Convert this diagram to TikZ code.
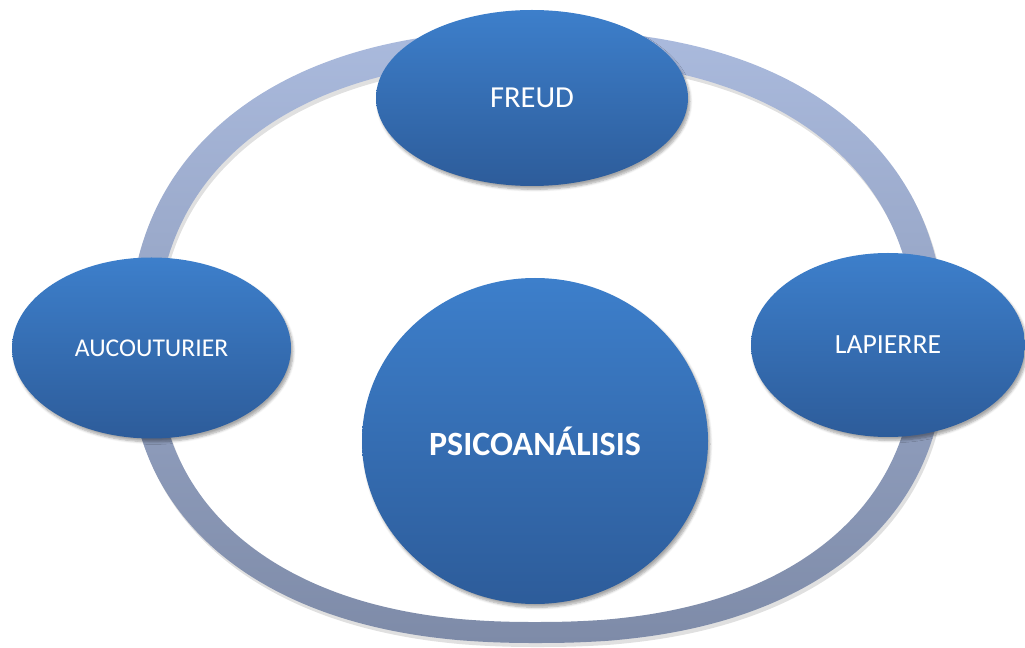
\documentclass[tikz,border=0pt]{standalone}
\usepackage{fontspec}
\setmainfont{Carlito}
\usetikzlibrary{shapes.geometric,shadows.blur}
\definecolor{ringtop}{RGB}{170,186,221}
\definecolor{ringbot}{RGB}{126,139,168}
\definecolor{nodetop}{RGB}{61,127,203}
\definecolor{nodebot}{RGB}{45,92,154}
\tikzset{
  bluenode/.style={ellipse, inner sep=0pt, top color=nodetop, bottom color=nodebot,
    text=white, blur shadow={shadow xshift=1.5pt, shadow yshift=-2.5pt, shadow blur steps=6, shadow opacity=35}},
  declare function={
    sx(\t)=sign(cos(\t))*pow(abs(cos(\t)),0.87);
    sy(\t)=sign(sin(\t))*pow(abs(sin(\t)),0.87);
  },
}
\newcommand{\ringpath}{%
  plot[domain=0.5:358.5, samples=180, smooth] ({537+408*sx(\x)}, {345+(sin(\x)>0?298:315)*sy(\x)}) -- cycle
  plot[domain=0.5:358.5, samples=180, smooth] ({536+379*sx(\x)}, {345+(sin(\x)>0?277:285)*sy(\x)}) -- cycle}
\begin{document}
\begin{tikzpicture}[x=0.75pt,y=-0.75pt]
\useasboundingbox (0,0) rectangle (1025,648);
% ring shadow
\fill[black, opacity=0.12, even odd rule, shift={(2,4)}] \ringpath;
% ring
\shade[top color=ringtop, bottom color=ringbot, even odd rule] \ringpath;
% nodes
\node[bluenode, minimum width=234pt, minimum height=132pt, font=\fontsize{22.9}{27}\selectfont] (freud) at (532,98) {FREUD};
\node[bluenode, minimum width=209.25pt, minimum height=135.75pt, font=\fontsize{19.2}{23}\selectfont] (auco) at (151.5,348) {AUCOUTURIER};
\node[bluenode, minimum width=205.5pt, minimum height=138pt, font=\fontsize{20.8}{25}\selectfont] (lapi) at (888,345) {LAPIERRE};
\node[bluenode, minimum width=259.5pt, minimum height=244.5pt, font=\fontsize{25.5}{30}\selectfont\bfseries] (psico) at (535,441) {PSICOANÁLISIS};
\end{tikzpicture}
\end{document}
